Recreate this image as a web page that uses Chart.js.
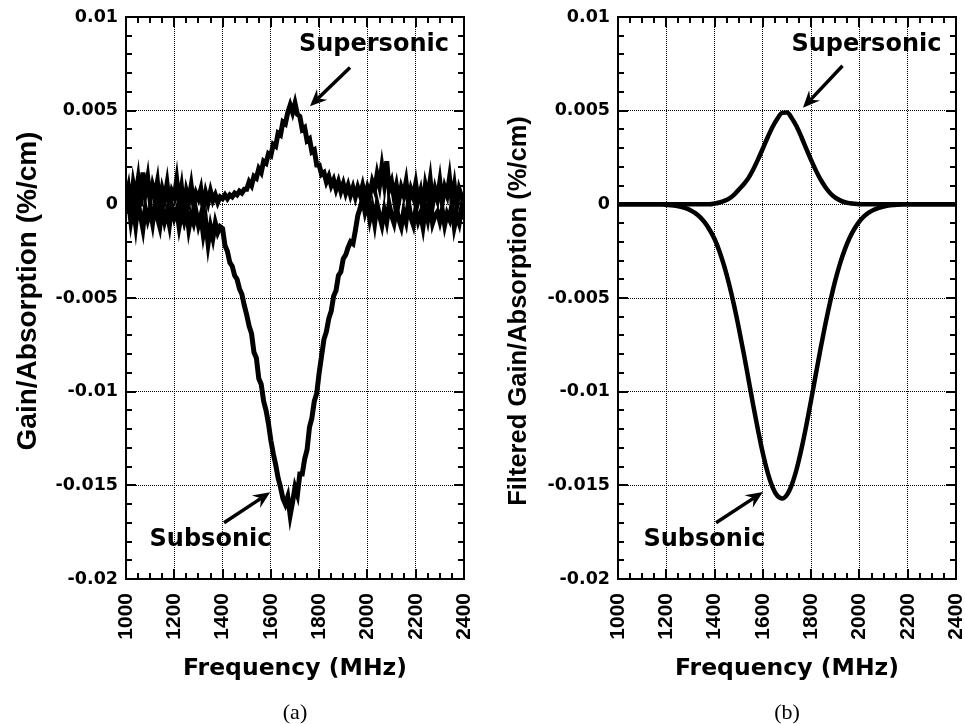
<!DOCTYPE html>
<html>
<head>
<meta charset="utf-8">
<script src="https://cdn.jsdelivr.net/npm/chart.js@4.4.1/dist/chart.umd.min.js"></script>
<style>
  html, body { margin: 0; padding: 0; background: #fff; }
  #wrap { position: relative; width: 965px; height: 724px; }
  canvas { position: absolute; top: 0; }
  #chartA { left: 0; }
  #chartB { left: 482px; }
</style>
</head>
<body>
<div id="wrap">
  <canvas id="chartA" width="482" height="724"></canvas>
  <canvas id="chartB" width="483" height="724"></canvas>
</div>
<script>
// Axis ticks (shared by both panels)
const freqTicks = [1000, 1200, 1400, 1600, 1800, 2000, 2200, 2400];
const freqTickLabels = ['1000', '1200', '1400', '1600', '1800', '2000', '2200', '2400'];
const gainTicks = [-0.02, -0.015, -0.01, -0.005, 0, 0.005, 0.01];
const gainTickLabels = ['-0.02', '-0.015', '-0.01', '-0.005', '0', '0.005', '0.01'];

// (a) measured gain/absorption, sampled every 10 MHz
const freqA = [
  1000, 1010, 1020, 1030, 1040, 1050, 1060, 1070, 1080, 1090,
  1100, 1110, 1120, 1130, 1140, 1150, 1160, 1170, 1180, 1190,
  1200, 1210, 1220, 1230, 1240, 1250, 1260, 1270, 1280, 1290,
  1300, 1310, 1320, 1330, 1340, 1350, 1360, 1370, 1380, 1390,
  1400, 1410, 1420, 1430, 1440, 1450, 1460, 1470, 1480, 1490,
  1500, 1510, 1520, 1530, 1540, 1550, 1560, 1570, 1580, 1590,
  1600, 1610, 1620, 1630, 1640, 1650, 1660, 1670, 1680, 1690,
  1700, 1710, 1720, 1730, 1740, 1750, 1760, 1770, 1780, 1790,
  1800, 1810, 1820, 1830, 1840, 1850, 1860, 1870, 1880, 1890,
  1900, 1910, 1920, 1930, 1940, 1950, 1960, 1970, 1980, 1990,
  2000, 2010, 2020, 2030, 2040, 2050, 2060, 2070, 2080, 2090,
  2100, 2110, 2120, 2130, 2140, 2150, 2160, 2170, 2180, 2190,
  2200, 2210, 2220, 2230, 2240, 2250, 2260, 2270, 2280, 2290,
  2300, 2310, 2320, 2330, 2340, 2350, 2360, 2370, 2380, 2390,
  2400
];
const superA = [
  0.0003, 0.0009, -0.0002, 0.0011, 0.0004, 0.0013, -0.0001, 0.0017, 0.0006, 0.0014,
  0.0002, 0.0010, 0.0005, 0.0012, -0.0001, 0.0008, 0.0003, 0.0011, 0.0000, 0.0007,
  0.0004, 0.0013, 0.0001, 0.0009, -0.0003, 0.0007, 0.0002, 0.0010, 0.0000, 0.0006,
  0.0003, 0.0008, -0.0002, 0.0006, 0.0001, 0.0007, 0.0002, 0.0005, 0.0001, 0.0004,
  0.0003, 0.0005, 0.0003, 0.0005, 0.0004, 0.0006, 0.0005, 0.0007, 0.0006, 0.0008,
  0.0008, 0.0012, 0.0010, 0.0015, 0.0014, 0.0019, 0.0017, 0.0023, 0.0022, 0.0027,
  0.0026, 0.0032, 0.0031, 0.0038, 0.0037, 0.0044, 0.0043, 0.0049, 0.0053, 0.0049,
  0.0054, 0.0048, 0.0047, 0.0040, 0.0041, 0.0034, 0.0035, 0.0028, 0.0029, 0.0021,
  0.0021, 0.0016, 0.0017, 0.0012, 0.0015, 0.0010, 0.0013, 0.0008, 0.0012, 0.0007,
  0.0011, 0.0006, 0.0010, 0.0005, 0.0009, 0.0004, 0.0009, 0.0005, 0.0010, 0.0004,
  0.0009, 0.0005, 0.0012, 0.0008, 0.0016, 0.0010, 0.0020, 0.0011, 0.0023, 0.0008,
  0.0012, 0.0004, 0.0010, 0.0002, 0.0009, 0.0005, 0.0012, 0.0001, 0.0008, 0.0004,
  0.0011, 0.0002, 0.0007, -0.0002, 0.0010, 0.0004, 0.0013, 0.0000, 0.0008, 0.0003,
  0.0012, 0.0001, 0.0009, 0.0005, 0.0014, 0.0002, 0.0010, -0.0001, 0.0008, 0.0004,
  0.0002
];
const subA = [
  -0.0005, 0.0002, -0.0009, -0.0001, -0.0011, 0.0001, -0.0006, -0.0013, -0.0002, -0.0008,
  -0.0003, -0.0010, 0.0000, -0.0007, -0.0012, -0.0002, -0.0009, -0.0004, -0.0011, -0.0001,
  -0.0007, -0.0003, -0.0012, -0.0005, -0.0009, -0.0002, -0.0013, -0.0006, -0.0010, -0.0004,
  -0.0011, -0.0006, -0.0016, -0.0009, -0.0021, -0.0012, -0.0018, -0.0010, -0.0015, -0.0012,
  -0.0013, -0.0022, -0.0025, -0.0031, -0.0033, -0.0038, -0.0040, -0.0045, -0.0048, -0.0054,
  -0.0059, -0.0065, -0.0069, -0.0079, -0.0082, -0.0093, -0.0096, -0.0105, -0.0110, -0.0117,
  -0.0126, -0.0133, -0.0139, -0.0146, -0.0151, -0.0157, -0.0160, -0.0156, -0.0166, -0.0159,
  -0.0151, -0.0155, -0.0144, -0.0144, -0.0136, -0.0131, -0.0119, -0.0114, -0.0105, -0.0101,
  -0.0090, -0.0081, -0.0072, -0.0068, -0.0061, -0.0057, -0.0049, -0.0046, -0.0038, -0.0036,
  -0.0029, -0.0027, -0.0023, -0.0020, -0.0021, -0.0014, -0.0006, -0.0002, 0.0003, -0.0004,
  0.0001, -0.0008, -0.0002, -0.0010, 0.0000, -0.0006, -0.0011, -0.0003, -0.0009, 0.0000,
  -0.0006, -0.0010, -0.0002, -0.0008, -0.0012, -0.0004, -0.0009, 0.0001, -0.0007, -0.0011,
  -0.0003, -0.0009, -0.0005, -0.0012, -0.0002, -0.0008, 0.0000, -0.0010, -0.0006, -0.0004,
  -0.0009, -0.0003, -0.0011, -0.0005, -0.0008, 0.0000, -0.0012, -0.0006, -0.0010, -0.0002,
  -0.0008
];

// (b) filtered gain/absorption, sampled every 20 MHz
const freqB = [
  1000, 1020, 1040, 1060, 1080, 1100, 1120, 1140, 1160, 1180,
  1200, 1220, 1240, 1260, 1280, 1300, 1320, 1340, 1360, 1380,
  1400, 1420, 1440, 1460, 1480, 1500, 1520, 1540, 1560, 1580,
  1600, 1620, 1640, 1660, 1680, 1700, 1720, 1740, 1760, 1780,
  1800, 1820, 1840, 1860, 1880, 1900, 1920, 1940, 1960, 1980,
  2000, 2020, 2040, 2060, 2080, 2100, 2120, 2140, 2160, 2180,
  2200, 2220, 2240, 2260, 2280, 2300, 2320, 2340, 2360, 2380,
  2400
];
const superB = [
  0, 0, 0, 0, 0, 0, 0, 0, 0, 0,
  0, 0, 0, 0, 0, 0, 0, 0, 0, 0,
  0.00004, 0.00010, 0.00018, 0.00030, 0.00050, 0.00078, 0.00106, 0.00140, 0.00186, 0.00240,
  0.00298, 0.00358, 0.00413, 0.00457, 0.00488, 0.00490, 0.00460, 0.00415, 0.00358, 0.00296,
  0.00236, 0.00180, 0.00130, 0.00090, 0.00058, 0.00036, 0.00021, 0.00011, 0.00006, 0.00003,
  0.00001, 0, 0, 0, 0, 0, 0, 0, 0, 0,
  0, 0, 0, 0, 0, 0, 0, 0, 0, 0,
  0
];
const subB = [
  0, 0, 0, 0, 0, 0, 0, 0, 0, 0,
  -0.00003, -0.00005, -0.00008, -0.00013, -0.00020, -0.00031, -0.00047, -0.00068, -0.00098, -0.00137,
  -0.00185, -0.00250, -0.00330, -0.00425, -0.00535, -0.00658, -0.00790, -0.00930, -0.01072, -0.01206,
  -0.01329, -0.01432, -0.01509, -0.01556, -0.01570, -0.01550, -0.01496, -0.01413, -0.01305, -0.01180,
  -0.01044, -0.00903, -0.00764, -0.00633, -0.00513, -0.00406, -0.00315, -0.00239, -0.00177, -0.00129,
  -0.00091, -0.00063, -0.00043, -0.00029, -0.00019, -0.00012, -0.00007, -0.00004, -0.00002, 0,
  0, 0, 0, 0, 0, 0, 0, 0, 0, 0,
  0
];

// Labels with arrows, in data units: text centre, arrow tail, arrow tip
const notesA = [
  { text: 'Supersonic', at: [2027, 0.0085], from: [1928, 0.0073], to: [1762, 0.00524] },
  { text: 'Subsonic', at: [1350, -0.0179], from: [1406, -0.0170], to: [1597, -0.01537] }
];
const notesB = [
  { text: 'Supersonic', at: [2029, 0.0085], from: [1930, 0.0074], to: [1766, 0.00515] },
  { text: 'Subsonic', at: [1358, -0.0179], from: [1406, -0.0170], to: [1600, -0.01536] }
];

const MINOR_X = 50;
const MINOR_Y = 0.001;
const SANS = "'Liberation Sans', Arial, Helvetica, sans-serif";
const WIDE = "'DejaVu Sans', Verdana, sans-serif";

const toPoints = (xs, ys) => xs.map((x, i) => ({ x: x, y: ys[i] }));

// frame with inward ticks on all four sides
const framePlugin = {
  id: 'frame',
  afterDatasetsDraw(chart) {
    const { ctx, chartArea: a, scales: { x, y } } = chart;
    ctx.save();
    ctx.strokeStyle = '#000';
    ctx.lineWidth = 2;
    ctx.strokeRect(a.left, a.top, a.right - a.left, a.bottom - a.top);
    const tick = (x0, y0, x1, y1) => { ctx.beginPath(); ctx.moveTo(x0, y0); ctx.lineTo(x1, y1); ctx.stroke(); };
    for (let f = x.min; f <= x.max + 1e-6; f += MINOR_X) {
      const px = Math.round(x.getPixelForValue(f));
      const len = (f - x.min) % 200 === 0 ? 10 : 6;
      tick(px, a.bottom, px, a.bottom - len);
      tick(px, a.top, px, a.top + len);
    }
    for (let k = 0; k <= 30; k++) {
      const v = y.min + k * MINOR_Y;
      const py = Math.round(y.getPixelForValue(v));
      const len = k % 5 === 0 ? 10 : 6;
      tick(a.left, py, a.left + len, py);
      tick(a.right, py, a.right - len, py);
    }
    ctx.restore();
  }
};

function drawArrow(ctx, x0, y0, x1, y1) {
  const ang = Math.atan2(y1 - y0, x1 - x0);
  const c = Math.cos(ang), s = Math.sin(ang);
  const headLen = 17, headHalf = 7.5, notch = 11;
  ctx.lineWidth = 3.5;
  ctx.beginPath();
  ctx.moveTo(x0, y0);
  ctx.lineTo(x1 - notch * c, y1 - notch * s);
  ctx.stroke();
  const bx = x1 - headLen * c, by = y1 - headLen * s;
  ctx.beginPath();
  ctx.moveTo(x1, y1);
  ctx.lineTo(bx + headHalf * s, by - headHalf * c);
  ctx.lineTo(x1 - notch * c, y1 - notch * s);
  ctx.lineTo(bx - headHalf * s, by + headHalf * c);
  ctx.closePath();
  ctx.fill();
}

// annotations, rotated y title and the panel caption
const notesPlugin = {
  id: 'notes',
  afterDraw(chart, args, opts) {
    const { ctx, chartArea: a, scales: { x, y } } = chart;
    ctx.save();
    ctx.fillStyle = '#000';
    ctx.strokeStyle = '#000';
    ctx.font = 'bold 24px ' + WIDE;
    ctx.textAlign = 'center';
    ctx.textBaseline = 'middle';
    opts.items.forEach(n => {
      ctx.fillText(n.text, x.getPixelForValue(n.at[0]), y.getPixelForValue(n.at[1]));
      drawArrow(ctx,
        x.getPixelForValue(n.from[0]), y.getPixelForValue(n.from[1]),
        x.getPixelForValue(n.to[0]), y.getPixelForValue(n.to[1]));
    });

    ctx.save();
    ctx.translate(opts.titleX, opts.titleY);
    ctx.rotate(-Math.PI / 2);
    ctx.font = 'bold ' + opts.titleSize + 'px ' + SANS;
    ctx.fillText(opts.title, 0, 0);
    ctx.restore();

    ctx.font = "22px 'Liberation Serif', 'Times New Roman', serif";
    ctx.textBaseline = 'alphabetic';
    ctx.fillText(opts.caption, (a.left + a.right) / 2, 719);
    ctx.restore();
  }
};

// keep the plot box where it is: no extra room reserved for the end labels
const noEdgePadding = s => {
  s.paddingLeft = 0;
  s.paddingRight = 0;
  s.paddingTop = 0;
  s.paddingBottom = 0;
};

function makePanel(id, cfg) {
  const lineStyle = {
    borderColor: '#000',
    borderWidth: cfg.lineWidth,
    pointRadius: 0,
    fill: false,
    tension: 0,
    cubicInterpolationMode: cfg.smooth ? 'monotone' : 'default',
    borderJoinStyle: 'miter'
  };
  return new Chart(document.getElementById(id), {
    type: 'line',
    data: {
      datasets: [
        Object.assign({ label: 'Supersonic', data: toPoints(cfg.freq, cfg.sup) }, lineStyle),
        Object.assign({ label: 'Subsonic', data: toPoints(cfg.freq, cfg.sub) }, lineStyle)
      ]
    },
    options: {
      responsive: false,
      animation: false,
      events: [],
      layout: { padding: { left: 0, right: cfg.padRight, top: 17, bottom: 41 } },
      plugins: {
        legend: { display: false },
        tooltip: { enabled: false },
        notes: {
          items: cfg.notes, caption: cfg.caption,
          title: cfg.yTitle, titleX: cfg.titleX, titleY: cfg.titleY, titleSize: cfg.titleSize
        }
      },
      scales: {
        x: {
          type: 'linear',
          min: 1000,
          max: 2400,
          afterBuildTicks: s => { s.ticks = freqTicks.map(v => ({ value: v })); },
          afterFit: s => { s.height = 104; noEdgePadding(s); },
          ticks: {
            autoSkip: false,
            minRotation: 90,
            maxRotation: 90,
            padding: 14,
            color: '#000',
            font: { family: SANS, weight: 'bold', size: 21 },
            callback: (v, i) => freqTickLabels[i]
          },
          grid: { color: '#000', lineWidth: 1, drawTicks: false },
          border: { display: false, dash: [1, 1] },
          title: {
            display: true,
            text: 'Frequency (MHz)',
            color: '#000',
            font: { family: WIDE, weight: 'bold', size: 23.5 },
            padding: { top: 0, bottom: 0 }
          }
        },
        y: {
          type: 'linear',
          min: -0.02,
          max: 0.01,
          afterBuildTicks: s => { s.ticks = gainTicks.map(v => ({ value: v })); },
          afterFit: s => { s.width = cfg.axisWidth; noEdgePadding(s); },
          ticks: {
            padding: 8,
            color: '#000',
            font: { family: WIDE, weight: 'bold', size: 17.5 },
            callback: (v, i) => gainTickLabels[i]
          },
          grid: { color: '#000', lineWidth: 1, drawTicks: false },
          border: { display: false, dash: [1, 1] }
        }
      }
    },
    plugins: [framePlugin, notesPlugin]
  });
}

makePanel('chartA', {
  freq: freqA, sup: superA, sub: subA, smooth: false, lineWidth: 5,
  notes: notesA, caption: '(a)', yTitle: 'Gain/Absorption (%/cm)',
  axisWidth: 126, padRight: 18, titleX: 28, titleY: 291, titleSize: 28
});
makePanel('chartB', {
  freq: freqB, sup: superB, sub: subB, smooth: true, lineWidth: 4.5,
  notes: notesB, caption: '(b)', yTitle: 'Filtered Gain/Absorption (%/cm)',
  axisWidth: 136, padRight: 9, titleX: 37, titleY: 311, titleSize: 25.5
});
</script>
</body>
</html>
